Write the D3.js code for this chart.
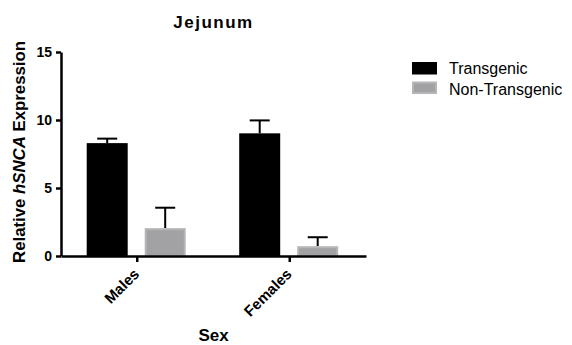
<!DOCTYPE html>
<html>
<head>
<meta charset="utf-8">
<script src="https://cdn.jsdelivr.net/npm/d3@7"></script>
<style>
  body { margin: 0; background: #fff; }
  text { font-family: "Liberation Sans", Arial, Helvetica, sans-serif; }
</style>
</head>
<body>
<div id="chart"></div>
<script>
// Data
const groups = ["Males", "Females"];
const series = ["Transgenic", "Non-Transgenic"];
const means = {
  "Transgenic": [8.3, 9.02],
  "Non-Transgenic": [2.05, 0.72]
};
const errors = {
  "Transgenic": [0.33, 0.95],
  "Non-Transgenic": [1.5, 0.66]
};
const yTicks = [0, 5, 10, 15];

const W = 572, H = 345;
const plotLeft = 61, plotRight = 366, plotTop = 52, plotBottom = 256;

const svg = d3.select("#chart")
  .append("svg")
  .attr("width", W)
  .attr("height", H);

const x0 = d3.scaleBand()
  .domain(groups)
  .range([plotLeft, plotRight])
  .padding(0);

const x1 = d3.scaleBand()
  .domain(series)
  .range([25.7, 124.7])
  .paddingInner(0.293)
  .paddingOuter(0);

const y = d3.scaleLinear()
  .domain([0, 15])
  .range([plotBottom, plotTop]);

const fill = d3.scaleOrdinal()
  .domain(series)
  .range(["#000000", "#a2a2a5"]);
const edge = d3.scaleOrdinal()
  .domain(series)
  .range(["#000000", "#b6b6b9"]);

// flatten for drawing
const rows = [];
groups.forEach((g, i) => {
  series.forEach(s => {
    rows.push({group: g, series: s, value: means[s][i], err: errors[s][i]});
  });
});

// error bars (upper only) drawn behind bars
const errG = svg.append("g");
rows.forEach(d => {
  const cx = x0(d.group) + x1(d.series) + x1.bandwidth() / 2;
  errG.append("line")
    .attr("x1", cx).attr("x2", cx)
    .attr("y1", y(d.value)).attr("y2", y(d.value + d.err))
    .attr("stroke", "#000").attr("stroke-width", 2);
  errG.append("line")
    .attr("x1", cx - 10).attr("x2", cx + 10)
    .attr("y1", y(d.value + d.err)).attr("y2", y(d.value + d.err))
    .attr("stroke", "#000").attr("stroke-width", 2);
});

// bars
svg.append("g")
  .selectAll("rect")
  .data(rows)
  .enter()
  .append("rect")
  .attr("x", d => x0(d.group) + x1(d.series) + 1)
  .attr("y", d => y(d.value) + 1)
  .attr("width", x1.bandwidth() - 2)
  .attr("height", d => y(0) - y(d.value) - 1)
  .attr("fill", d => fill(d.series))
  .attr("stroke", d => edge(d.series))
  .attr("stroke-width", 2);

// y axis
const yAxis = svg.append("g")
  .attr("transform", `translate(${plotLeft},0)`)
  .call(d3.axisLeft(y).tickValues(yTicks).tickSize(5).tickPadding(4).tickSizeOuter(0));
yAxis.select(".domain").attr("stroke", "#000").attr("stroke-width", 2.5);
yAxis.selectAll(".tick line").attr("stroke-width", 2.5);
yAxis.selectAll("text")
  .style("font-size", "14px")
  .style("font-weight", "bold")
  .attr("fill", "#000");

// x axis
const xAxis = svg.append("g")
  .attr("transform", `translate(0,${plotBottom})`)
  .call(d3.axisBottom(x0).tickSize(6).tickSizeOuter(0));
xAxis.select(".domain").attr("stroke", "#000").attr("stroke-width", 2.5);
xAxis.selectAll(".tick line").attr("stroke-width", 2.5);
xAxis.selectAll("text")
  .style("font-size", "15px")
  .style("font-weight", "bold")
  .attr("fill", "#000")
  .attr("text-anchor", "end")
  .attr("x", 0)
  .attr("y", 0)
  .attr("dy", 0)
  .attr("transform", "translate(3,19) rotate(-45)");

// title
svg.append("text")
  .attr("x", (plotLeft + plotRight) / 2)
  .attr("y", 28)
  .attr("text-anchor", "middle")
  .style("font-size", "17px")
  .style("font-weight", "bold")
  .style("letter-spacing", "1.5px")
  .text("Jejunum");

// x label
svg.append("text")
  .attr("x", (plotLeft + plotRight) / 2)
  .attr("y", 341)
  .attr("text-anchor", "middle")
  .style("font-size", "17px")
  .style("font-weight", "bold")
  .text("Sex");

// y label with italic gene name
const yl = svg.append("text")
  .attr("transform", `translate(25,152) rotate(-90)`)
  .attr("text-anchor", "middle")
  .style("font-size", "16.8px")
  .style("font-weight", "bold");
yl.append("tspan").text("Relative ");
yl.append("tspan").style("font-style", "italic").text("hSNCA");
yl.append("tspan").text(" Expression");

// legend
const legend = svg.append("g").attr("transform", "translate(412,62)");
series.forEach((s, i) => {
  legend.append("rect")
    .attr("x", 1)
    .attr("y", i * 19.5 + 1)
    .attr("width", 23)
    .attr("height", 10.5)
    .attr("fill", fill(s))
    .attr("stroke", edge(s))
    .attr("stroke-width", 2);
  legend.append("text")
    .attr("x", 37)
    .attr("y", i * 21 + 11.5)
    .style("font-size", "16px")
    .text(s);
});
</script>
</body>
</html>
